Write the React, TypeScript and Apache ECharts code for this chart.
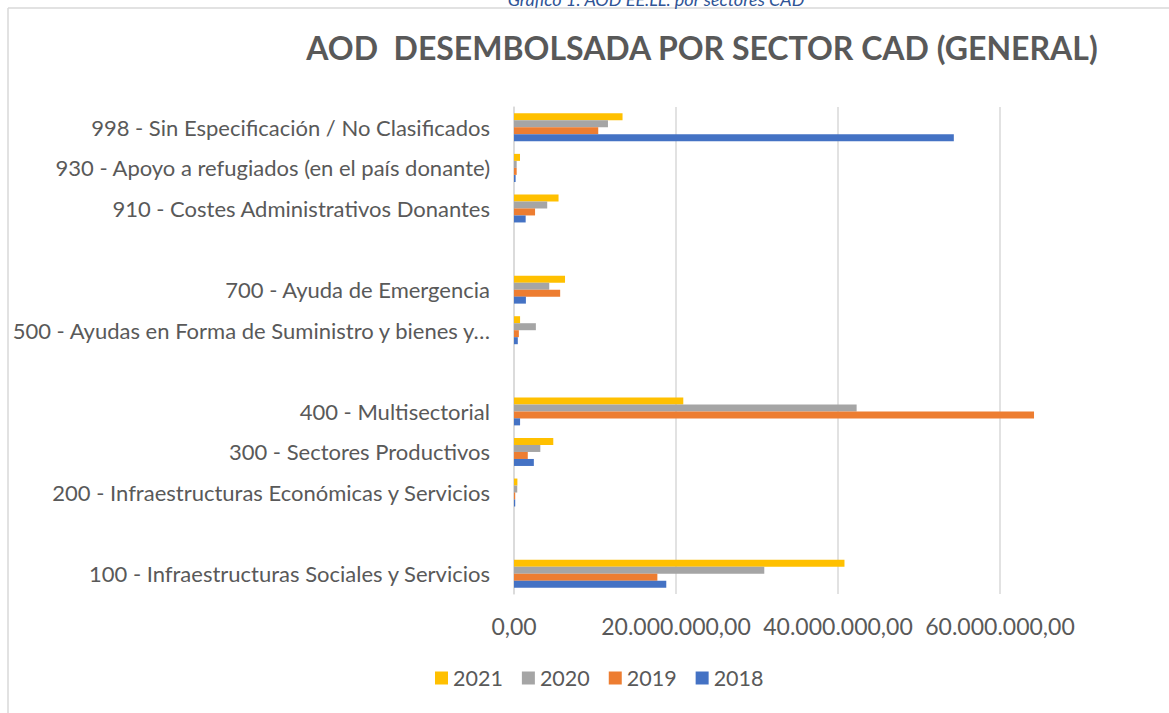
import React, { useEffect, useRef } from "react";
import * as echarts from "echarts";

const categories: string[] = [
  "100 - Infraestructuras Sociales y Servicios",
  "",
  "200 - Infraestructuras Económicas y Servicios",
  "300 - Sectores Productivos",
  "400 - Multisectorial",
  " ",
  "500 - Ayudas en Forma de Suministro y bienes y…",
  "700 - Ayuda de Emergencia",
  "  ",
  "910 - Costes Administrativos Donantes",
  "930 - Apoyo a refugiados (en el país donante)",
  "998 - Sin Especificación / No Clasificados",
];

const years: string[] = ["2021", "2020", "2019", "2018"];

const values2021 = [40800000, null, 420000, 4850000, 20900000, null, 750000, 6300000, null, 5500000, 740000, 13400000];
const values2020 = [30900000, null, 400000, 3250000, 42300000, null, 2700000, 4350000, null, 4100000, 330000, 11600000];
const values2019 = [17700000, null, 150000, 1700000, 64200000, null, 600000, 5700000, null, 2600000, 330000, 10400000];
const values2018 = [18800000, null, 150000, 2450000, 750000, null, 470000, 1470000, null, 1440000, 200000, 54300000];

const xTicks = { min: 0, max: 60000000, interval: 20000000 };

const colors: Record<string, string> = {
  "2021": "#FFC000",
  "2020": "#A5A5A5",
  "2019": "#ED7D31",
  "2018": "#4472C4",
};

const seriesValues: Record<string, (number | null)[]> = {
  "2021": values2021,
  "2020": values2020,
  "2019": values2019,
  "2018": values2018,
};

const FONT = "Lato, 'Open Sans', sans-serif";

function fmt(v: number): string {
  const s = Math.round(v)
    .toString()
    .replace(/\B(?=(\d{3})+(?!\d))/g, ".");
  return s + ",00";
}

export default function App() {
  const ref = useRef<HTMLDivElement>(null);
  useEffect(() => {
    if (!ref.current) return;
    const chart = echarts.init(ref.current, undefined, { renderer: "svg" });
    chart.setOption({
      animation: false,
      backgroundColor: "#ffffff",
      graphic: [
        {
          type: "line",
          shape: { x1: 8, y1: 8, x2: 1169, y2: 8 },
          style: { stroke: "#d9d9d9", lineWidth: 1.5 },
        },
        {
          type: "line",
          shape: { x1: 8, y1: 8, x2: 8, y2: 713 },
          style: { stroke: "#d9d9d9", lineWidth: 1.5 },
        },
        {
          type: "text",
          x: 656,
          y: 8,
          style: {
            text: "Gráfico 1: AOD EE.LL. por sectores CAD",
            font: "italic 18px " + FONT,
            fill: "#2F5496",
            align: "center",
            verticalAlign: "bottom",
          },
        },
        {
          type: "text",
          x: 702,
          y: 47,
          style: {
            text: "AOD  DESEMBOLSADA POR SECTOR CAD (GENERAL)",
            font: "bold 32px " + FONT,
            fill: "#595959",
            align: "center",
            verticalAlign: "middle",
          },
        },
      ],
      grid: {
        left: 514,
        right: 169,
        top: 107,
        bottom: 119,
        containLabel: false,
        outerBoundsMode: "none",
      },
      legend: {
        data: years,
        left: 430,
        top: 662,
        icon: "rect",
        itemWidth: 13,
        itemHeight: 13,
        itemGap: 19,
        textStyle: { fontSize: 21.5, color: "#595959", fontFamily: FONT },
      },
      xAxis: {
        type: "value",
        min: xTicks.min,
        max: xTicks.max,
        interval: xTicks.interval,
        axisLine: { show: false },
        axisTick: { show: false },
        splitLine: { show: true, lineStyle: { color: "#d9d9d9", width: 1.5 } },
        axisLabel: {
          fontSize: 23,
          color: "#595959",
          fontFamily: FONT,
          margin: 20,
          formatter: (v: number) => fmt(v),
        },
      },
      yAxis: {
        type: "category",
        data: categories,
        axisLine: { show: true, lineStyle: { color: "#d9d9d9", width: 1.5 } },
        axisTick: { show: false },
        axisLabel: { fontSize: 22, color: "#595959", fontFamily: FONT, margin: 24 },
      },
      series: years.map((y) => ({
        name: y,
        type: "bar",
        data: seriesValues[y],
        barWidth: 7,
        barGap: "0%",
        clip: false,
        itemStyle: { color: colors[y] },
      })),
    });
    return () => chart.dispose();
  }, []);
  return (
    <div
      ref={ref}
      style={{ position: "absolute", left: 0, top: 0, width: 1169, height: 713 }}
    />
  );
}
